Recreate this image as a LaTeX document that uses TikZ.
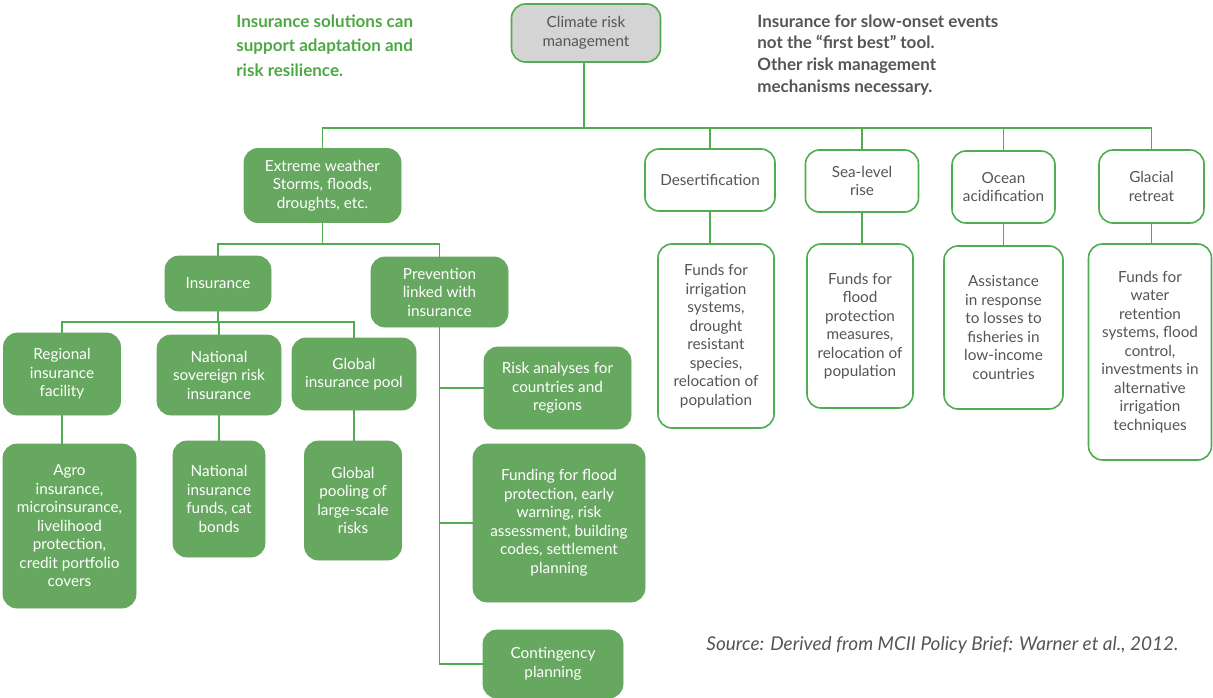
\documentclass[tikz,border=0pt]{standalone}
\usepackage{fontspec}
\setmainfont{Lato}
\usetikzlibrary{positioning}

\definecolor{leaf}{RGB}{103,168,96}
\definecolor{rim}{RGB}{80,172,80}
\definecolor{ink}{RGB}{85,85,85}
\definecolor{cloud}{RGB}{212,212,212}
\definecolor{headline}{RGB}{76,168,67}

\begin{document}
\begin{tikzpicture}[x=1pt, y=-1pt, thick,
    font=\fontsize{15.3}{18.5}\selectfont,
    link/.style={draw=rim, line width=1.2pt},
    rootbox/.style={draw=rim, line width=1.6pt, fill=cloud, rounded corners=14pt, align=center, text=ink, inner sep=0pt},
    greenbox/.style={fill=leaf, draw=leaf, rounded corners=14pt, align=center, text=white, inner sep=0pt},
    whitebox/.style={draw=rim, line width=1.6pt, fill=white, rounded corners=14pt, align=center, text=ink, inner sep=0pt}]

    \useasboundingbox (0,0) rectangle (1213,698);

    % Nodes
    \node (crm) [rootbox, minimum width=149pt, minimum height=58pt] at (586,33) {Climate risk\\management};

    \node (extreme) [greenbox, minimum width=157pt, minimum height=74pt] at (322.5,185.5) {Extreme weather\\Storms, floods,\\droughts, etc.};
    \node (desert) [whitebox, minimum width=130pt, minimum height=62pt] at (710,180) {Desertification};
    \node (sea) [whitebox, minimum width=113pt, minimum height=62pt] at (862,181) {Sea-level\\rise};
    \node (ocean) [whitebox, minimum width=103pt, minimum height=72pt] at (1003.5,187) {Ocean\\acidification};
    \node (glacial) [whitebox, minimum width=105pt, minimum height=73pt] at (1151.5,186.5) {Glacial\\retreat};

    \node (desertfund) [whitebox, minimum width=116pt, minimum height=184pt] at (716,336) {Funds for\\irrigation\\systems,\\drought\\resistant\\species,\\relocation of\\population};
    \node (seafund) [whitebox, minimum width=106pt, minimum height=164pt] at (860,326) {Funds for\\flood\\protection\\measures,\\relocation of\\population};
    \node (oceanfund) [whitebox, minimum width=119pt, minimum height=163pt] at (1003.5,327.5) {Assistance\\in response\\to losses to\\fisheries in\\low-income\\countries};
    \node (glacialfund) [whitebox, minimum width=123pt, minimum height=216pt] at (1150,352) {Funds for\\water\\retention\\systems, flood\\control,\\investments in\\alternative\\irrigation\\techniques};

    \node (insurance) [greenbox, minimum width=106pt, minimum height=55pt] at (218,283.5) {Insurance};
    \node (prevention) [greenbox, minimum width=137pt, minimum height=70pt] at (439.5,292) {Prevention\\linked with\\insurance};

    \node (regional) [greenbox, minimum width=117pt, minimum height=82pt] at (62,374) {Regional\\insurance\\facility};
    \node (sovereign) [greenbox, minimum width=124pt, minimum height=80pt] at (219,375) {National\\sovereign risk\\insurance};
    \node (pool) [greenbox, minimum width=124pt, minimum height=72pt] at (354,374) {Global\\insurance pool};

    \node (agro) [greenbox, minimum width=133pt, minimum height=164pt] at (69.5,526) {Agro\\insurance,\\microinsurance,\\livelihood\\protection,\\credit portfolio\\covers};
    \node (natfund) [greenbox, minimum width=92pt, minimum height=116pt] at (219,499) {National\\insurance\\funds, cat\\bonds};
    \node (pooling) [greenbox, minimum width=97pt, minimum height=119pt] at (353,500.5) {Global\\pooling of\\large-scale\\risks};

    \node (riskan) [greenbox, minimum width=147pt, minimum height=82pt] at (557.5,388) {Risk analyses for\\countries and\\regions};
    \node (funding) [greenbox, minimum width=172pt, minimum height=158pt] at (559,523) {Funding for flood\\protection, early\\warning, risk\\assessment, building\\codes, settlement\\planning};
    \node (contingency) [greenbox, minimum width=140pt, minimum height=68pt] at (553,664) {Contingency\\planning};

    % Texts
    \node (claim) [anchor=north west, align=left, inner sep=0pt, text=headline, font=\fontsize{17}{24.5}\selectfont\bfseries] at (236,14) {Insurance solutions can\\support adaptation and\\risk resilience.};
    \node (caveat) [anchor=north west, align=left, inner sep=0pt, text=ink, font=\fontsize{17}{21.7}\selectfont\bfseries] at (757,14) {Insurance for slow-onset events\\not the “first best” tool.\\Other risk management\\mechanisms necessary.};
    \node (source) [anchor=west, inner sep=0pt, text=ink, font=\fontsize{19}{22}\selectfont\itshape] at (706,645) {Source: Derived from MCII Policy Brief: Warner et al., 2012.};

    % Links
    \coordinate (bus) at (584,128);
    \coordinate (split) at (322.5,244);
    \coordinate (fork) at (218,322);

    \draw[link] (crm.south -| bus) -- (bus);
    \draw[link] (extreme.north) |- (bus) -| (glacial.north);
    \foreach \n in {desert, sea, ocean}
        \draw[link] (\n.north) -- (\n.north |- bus);
    \foreach \a/\b in {desert/desertfund, sea/seafund, ocean/oceanfund, glacial/glacialfund}
        \draw[link] (\a.south) -- (\a.south |- \b.north);

    \draw[link] (extreme.south) -- (split);
    \draw[link] (insurance.north) |- (split) -| (prevention.north);

    \draw[link] (insurance.south) -- (fork);
    \draw[link] (regional.north) |- (fork) -| (pool.north);
    \draw[link] (sovereign.north) -- (sovereign.north |- fork);
    \foreach \a/\b in {regional/agro, sovereign/natfund, pool/pooling}
        \draw[link] (\a.south) -- (\a.south |- \b.north);

    \draw[link] (prevention.south) |- (contingency.west);
    \draw[link] (prevention.south |- riskan.west) -- (riskan.west);
    \draw[link] (prevention.south |- funding.west) -- (funding.west);
\end{tikzpicture}
\end{document}
